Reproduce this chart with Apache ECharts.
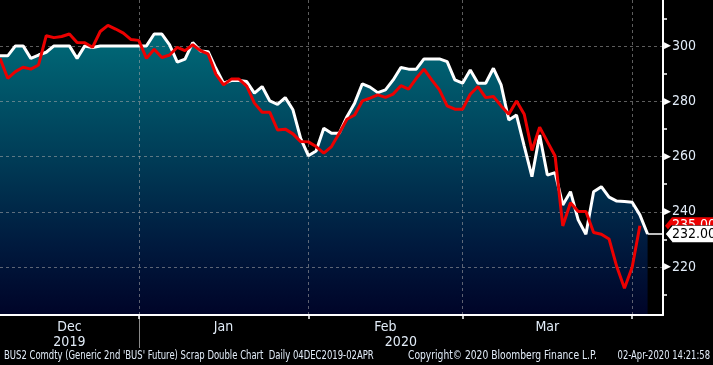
<!DOCTYPE html>
<html>
<head>
<meta charset="utf-8">
<script src="https://cdn.jsdelivr.net/npm/echarts/dist/echarts.min.js"></script>
<style>
html,body{margin:0;padding:0;background:#000;}
#chart{width:713px;height:365px;}
</style>
</head>
<body>
<div id="chart"></div>
<script>
// ---- data ----
const dates = [
 '2019-12-04','2019-12-05','2019-12-06','2019-12-09','2019-12-10','2019-12-11','2019-12-12','2019-12-13','2019-12-16','2019-12-17',
 '2019-12-18','2019-12-19','2019-12-20','2019-12-23','2019-12-24','2019-12-26','2019-12-27','2019-12-30','2019-12-31',
 '2020-01-02','2020-01-03','2020-01-06','2020-01-07','2020-01-08','2020-01-09','2020-01-10','2020-01-13','2020-01-14','2020-01-15',
 '2020-01-16','2020-01-17','2020-01-20','2020-01-21','2020-01-22','2020-01-23','2020-01-24','2020-01-27','2020-01-28','2020-01-29',
 '2020-01-30','2020-01-31',
 '2020-02-03','2020-02-04','2020-02-05','2020-02-06','2020-02-07','2020-02-10','2020-02-11','2020-02-12','2020-02-13','2020-02-14',
 '2020-02-17','2020-02-18','2020-02-19','2020-02-20','2020-02-21','2020-02-24','2020-02-25','2020-02-26','2020-02-27','2020-02-28',
 '2020-03-02','2020-03-03','2020-03-04','2020-03-05','2020-03-06','2020-03-09','2020-03-10','2020-03-11','2020-03-12','2020-03-13',
 '2020-03-16','2020-03-17','2020-03-18','2020-03-19','2020-03-20','2020-03-23','2020-03-24','2020-03-25','2020-03-26','2020-03-27',
 '2020-03-30','2020-03-31',
 '2020-04-01','2020-04-02','2020-04-03','2020-04-06'
];
const whiteSeries = [
 296.4,296.4,300,300,295.5,296.7,297.7,300,300,300,
 295.5,300,299.4,300,300,300,300,300,300,300,
 304.3,304.3,300.4,294.1,295.2,301.2,298.2,297.9,291.9,286.5,
 287.5,287.5,287.1,282.9,285.3,280.1,278.9,281.3,276.9,266.6,
 260.3,262,270.2,268.4,268.4,274.4,279.3,286.3,285.1,283.1,
 284.1,287.7,292.2,291.6,291.6,295.3,295.3,295.3,294.3,287.7,
 286.5,291.3,286.5,286.5,291.9,285.9,273.2,275,263.8,252.7,
 267.8,253.3,254.2,242.5,247.3,237.1,231.9,247.3,249.1,245.3,
 243.9,243.7,243.5,238.9,232
];
const redSeries = [
 295.5,288.3,290.7,292.3,291.6,293.1,303.7,303,303.4,304.3,
 301.2,301.1,299.5,305.2,307.4,306.1,304.6,302.3,302,295.5,
 298.8,295.8,296.7,299.5,298.3,300.4,298.3,297.1,289.8,285.9,
 288,288,285.5,279.3,276,276,269.6,269.9,268.2,265.4,
 265.3,263.6,261.2,263.6,268.4,273.5,275,280.1,281.1,282.3,
 281.4,282.6,285.6,284.4,288.3,291.6,287.7,284.1,278.3,277.1,
 277.1,282.5,285.3,281.3,281.7,278.3,275.3,280.1,275.3,262.2,
 270.6,265.4,260.2,234.9,243.3,240.1,240.1,232.5,231.9,230.2,
 220.2,212.4,220,235
];
const monthLabels = {'2019-12-17':'Dec','2020-01-16':'Jan','2020-02-14':'Feb','2020-03-16':'Mar'};
const yearLabels = {'2019-12-17':'2019','2020-02-18':'2020'};
const yearSeparator = '2019-12-31';
const monthEnds = ['2019-12-31','2020-01-31','2020-02-28','2020-03-31'];
const yMajorTicks = [220,240,260,280,300];
const yMinorTicks = [210,230,250,270,290,310];
const yMin = 202.7, yMax = 316.6;
const footerLeft = "BUS2 Comdty (Generic 2nd 'BUS' Future) Scrap Double Chart  Daily 04DEC2019-02APR";
const footerMid = "Copyright\u00A9 2020 Bloomberg Finance L.P.";
const footerRight = "02-Apr-2020 14:21:58";

// ---- chart ----
const FONT = "'Liberation Sans Narrow','DejaVu Sans Condensed','Liberation Sans',sans-serif";
const TXT = '#e2ecf8';
const GRIDC = 'rgba(170,170,170,0.55)';
const lastWhite = whiteSeries[whiteSeries.length - 1];
const lastRed = redSeries[redSeries.length - 1];
const tagPath = 'path://M0,9 L7,0 L52,0 L52,18 L7,18 Z';

const chart = echarts.init(document.getElementById('chart'));
chart.setOption({
  animation: false,
  backgroundColor: '#000',
  grid: {left: 0, right: 50, top: 0, bottom: 50, containLabel: false, outerBoundsMode: 'none'},
  xAxis: [{
    type: 'category', data: dates, boundaryGap: false, z: 2,
    axisLine: {show: true, lineStyle: {color: '#fff', width: 2}},
    axisTick: {show: true, interval: (i, v) => monthEnds.includes(v), length: 4, lineStyle: {color: '#fff', width: 1.5}},
    axisLabel: {interval: (i, v) => v in monthLabels, formatter: v => monthLabels[v] || '',
      color: TXT, fontSize: 14, fontFamily: FONT, margin: 5},
    splitLine: {show: true, interval: (i, v) => monthEnds.includes(v), lineStyle: {color: GRIDC, type: [3, 3], width: 1}}
  }, {
    type: 'category', data: dates, boundaryGap: false, position: 'bottom', z: 1,
    axisLine: {show: false},
    axisTick: {show: true, interval: (i, v) => v === yearSeparator, length: 33, lineStyle: {color: '#8a8a8a', width: 1}},
    axisLabel: {interval: (i, v) => v in yearLabels, formatter: v => yearLabels[v] || '',
      color: TXT, fontSize: 14, fontFamily: FONT, margin: 20},
    splitLine: {show: false}
  }],
  yAxis: [{
    type: 'value', position: 'right', min: yMin, max: yMax, z: 2,
    axisLine: {show: true, lineStyle: {color: '#fff', width: 2}},
    axisTick: {show: false, customValues: yMajorTicks},
    axisLabel: {customValues: yMajorTicks, margin: 1,
      formatter: v => '{t|\u25B6}{v|' + v + '}',
      rich: {t: {color: '#fff', fontSize: 9, fontFamily: 'DejaVu Sans', padding: [0, 1, 0, 0]},
             v: {color: TXT, fontSize: 14, fontFamily: FONT}}},
    splitLine: {show: true, lineStyle: {color: GRIDC, type: [3, 3], width: 1}}
  }, {
    type: 'value', position: 'right', min: yMin, max: yMax, z: 2,
    axisLine: {show: false},
    axisTick: {show: true, customValues: yMinorTicks, length: 4, lineStyle: {color: '#fff', width: 1.5}},
    axisLabel: {show: false},
    splitLine: {show: false}
  }],
  series: [{
    name: 'fill', type: 'line', data: whiteSeries, symbol: 'none', silent: true, z: 1,
    lineStyle: {width: 0},
    areaStyle: {origin: 'start', opacity: 1, color: {type: 'linear', x: 0, y: 0, x2: 0, y2: 1, colorStops: [
      {offset: 0, color: '#006a78'}, {offset: 0.45, color: '#003b56'},
      {offset: 0.75, color: '#001a3e'}, {offset: 1, color: '#000428'}]}}
  }, {
    name: 'BUS2', type: 'line', data: whiteSeries, symbol: 'none', z: 3,
    lineStyle: {color: '#fff', width: 3},
    markLine: {silent: true, symbol: 'none', z: 3, label: {show: false},
      lineStyle: {color: '#fff', width: 1.5, type: 'solid'},
      data: [[{coord: [dates[whiteSeries.length - 1], lastWhite]}, {coord: [dates[dates.length - 1], lastWhite]}]]},
    markPoint: {z: 12, silent: true, symbol: tagPath, symbolSize: [52, 17], symbolKeepAspect: false, symbolOffset: [28, 0],
      itemStyle: {color: '#fff', borderColor: '#000', borderWidth: 1},
      label: {show: true, position: 'inside', offset: [3, 0], color: '#000', fontSize: 14, fontFamily: FONT,
        formatter: () => lastWhite.toFixed(2)},
      data: [{coord: [dates[dates.length - 1], lastWhite]}]}
  }, {
    name: 'Red', type: 'line', data: redSeries, symbol: 'none', z: 4,
    lineStyle: {color: '#ec0000', width: 3},
    markPoint: {z: 11, silent: true, symbol: tagPath, symbolSize: [52, 17], symbolKeepAspect: false, symbolOffset: [28, 0],
      itemStyle: {color: '#ec0000'},
      label: {show: true, position: 'inside', offset: [3, 0], color: '#fff', fontSize: 14, fontFamily: FONT,
        formatter: () => lastRed.toFixed(2)},
      data: [{coord: [dates[dates.length - 1], lastRed]}]}
  }],
  graphic: [
    {type: 'text', x: 4, y: 350, scaleX: 0.785, silent: true,
      style: {text: footerLeft, fill: TXT, fontSize: 12, fontFamily: FONT, align: 'left', verticalAlign: 'top'}},
    {type: 'text', x: 408, y: 350, scaleX: 0.85, silent: true,
      style: {text: footerMid, fill: TXT, fontSize: 12, fontFamily: FONT, align: 'left', verticalAlign: 'top'}},
    {type: 'text', x: 710, y: 350, scaleX: 0.78, silent: true,
      style: {text: footerRight, fill: TXT, fontSize: 12, fontFamily: FONT, align: 'right', verticalAlign: 'top'}}
  ]
});
</script>
</body>
</html>
